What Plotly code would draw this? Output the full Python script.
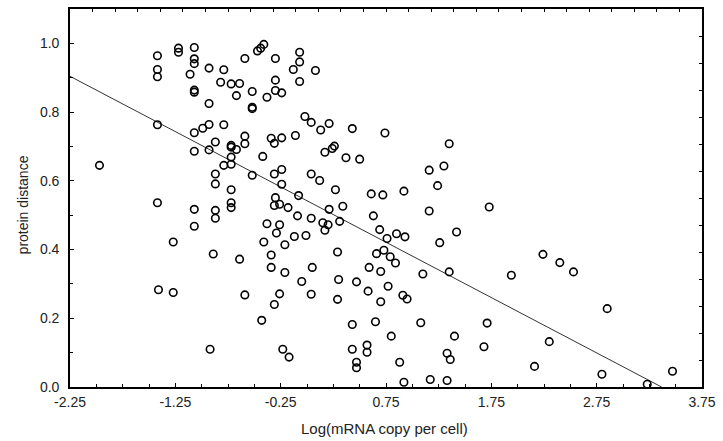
import plotly.graph_objects as go

# Data
log_mrna = [
    -1.97, -1.42, -1.42, -1.42, -1.42, -1.42, -1.41, -1.27, -1.27, -1.22,
    -1.22, -1.07, -1.07, -1.07, -1.11, -1.07, -1.07, -1.07, -1.07, -1.07,
    -1.07, -0.99, -0.93, -0.93, -0.93, -0.93, -0.92, -0.89, -0.87, -0.87,
    -0.87, -0.87, -0.87, -0.79, -0.82, -0.79, -0.79, -0.72, -0.72, -0.72,
    -0.72, -0.72, -0.72, -0.72, -0.72, -0.67, -0.67, -0.64, -0.64, -0.59,
    -0.59, -0.59, -0.59, -0.47, -0.44, -0.41, -0.30, -0.07, -0.07, -0.13,
    0.08, -0.07, -0.30, -0.52, -0.30, -0.24, -0.38, -0.52, -0.52, -0.02,
    0.04, 0.13, 0.21, 0.43, 0.74, -0.11, -0.34, -0.31, -0.24, -0.42,
    0.17, 0.24, 0.26, 0.37, 0.50, -0.52, -0.31, -0.24, 0.04, 0.12,
    -0.24, 0.27, -0.30, -0.08, 0.61, 0.72, 0.92, 1.35, 1.30, 1.16,
    1.24, 1.16, 1.73, 1.42, 1.26, 0.93, 0.85, -0.31, -0.26, -0.18,
    0.21, 0.34, -0.09, 0.04, -0.38, -0.26, -0.29, 0.15, 0.20, 0.17,
    0.31, 0.63, -0.12, -0.01, -0.41, -0.21, 0.69, 0.76, -0.34, 0.29,
    0.66, 0.73, 0.79, 0.84, -0.34, -0.21, 0.05, 0.59, 0.70, -0.05,
    0.30, 0.47, 0.77, 0.58, -0.26, -0.31, 0.04, 0.29, 0.70, 0.91,
    0.95, -0.43, 0.43, 0.65, 0.80, -0.23, -0.17, 0.43, 0.57, 0.57,
    0.47, 0.47, 0.88, 0.92, 1.10, 1.35, 1.94, 2.24, 2.40, 2.53,
    1.08, 1.71, 1.40, 1.68, 2.30, 1.33, 1.36, 2.16, 1.17, 1.33,
    2.85, 2.80, 3.23, 3.47,
]

protein_distance = [
    0.645, 0.964, 0.924, 0.903, 0.763, 0.536, 0.283, 0.422, 0.275, 0.986,
    0.974, 0.988, 0.955, 0.941, 0.910, 0.864, 0.858, 0.740, 0.686, 0.517,
    0.468, 0.753, 0.928, 0.825, 0.764, 0.690, 0.110, 0.387, 0.713, 0.620,
    0.591, 0.514, 0.491, 0.923, 0.887, 0.763, 0.645, 0.882, 0.703, 0.698,
    0.669, 0.648, 0.574, 0.536, 0.522, 0.848, 0.691, 0.883, 0.372, 0.956,
    0.730, 0.708, 0.268, 0.978, 0.986, 0.997, 0.956, 0.974, 0.946, 0.924,
    0.921, 0.889, 0.893, 0.860, 0.863, 0.856, 0.843, 0.814, 0.810, 0.787,
    0.770, 0.748, 0.767, 0.752, 0.739, 0.732, 0.724, 0.709, 0.725, 0.671,
    0.683, 0.694, 0.701, 0.667, 0.663, 0.616, 0.620, 0.633, 0.620, 0.601,
    0.590, 0.574, 0.551, 0.557, 0.562, 0.559, 0.570, 0.708, 0.643, 0.631,
    0.586, 0.512, 0.524, 0.451, 0.420, 0.437, 0.446, 0.528, 0.532, 0.522,
    0.517, 0.526, 0.498, 0.491, 0.475, 0.472, 0.448, 0.478, 0.472, 0.456,
    0.482, 0.498, 0.438, 0.441, 0.422, 0.414, 0.458, 0.432, 0.384, 0.393,
    0.388, 0.398, 0.379, 0.361, 0.348, 0.333, 0.348, 0.348, 0.336, 0.307,
    0.313, 0.306, 0.293, 0.279, 0.271, 0.240, 0.270, 0.255, 0.248, 0.267,
    0.256, 0.194, 0.182, 0.190, 0.148, 0.110, 0.087, 0.110, 0.122, 0.101,
    0.072, 0.056, 0.072, 0.014, 0.329, 0.335, 0.325, 0.386, 0.362, 0.335,
    0.187, 0.186, 0.148, 0.117, 0.132, 0.098, 0.080, 0.060, 0.022, 0.019,
    0.228, 0.037, 0.008, 0.046,
]

# Regression line
fit_intercept = 0.542
fit_slope = -0.161

x_tick_vals = [-2.25, -1.25, -0.25, 0.75, 1.75, 2.75, 3.75]
x_tick_text = ["-2.25", "-1.25", "-0.25", "0.75", "1.75", "2.75", "3.75"]
y_tick_vals = [0.0, 0.2, 0.4, 0.6, 0.8, 1.0]
y_tick_text = ["0.0", "0.2", "0.4", "0.6", "0.8", "1.0"]

x_title = "Log(mRNA copy per cell)"
y_title = "protein distance"

x_min, x_max = -2.25, 3.75
y_min, y_max = 0.0, 1.1

FONT = "Liberation Sans, Arial, Helvetica, sans-serif"
TXT = "#222222"

line_x = [x_min, -fit_intercept / fit_slope]
line_y = [fit_intercept + fit_slope * v for v in line_x]

fig = go.Figure()
fig.add_trace(go.Scatter(
    x=line_x, y=line_y, mode="lines",
    line=dict(color="#333333", width=1),
    showlegend=False, hoverinfo="skip",
))
fig.add_trace(go.Scatter(
    x=log_mrna, y=protein_distance, mode="markers",
    marker=dict(symbol="circle-open", size=7.5, color="black",
                line=dict(width=1.6, color="black")),
    showlegend=False,
))
# dummy traces to activate the top/right tick-only axes
fig.add_trace(go.Scatter(x=[None], y=[None], xaxis="x2", yaxis="y",
                         showlegend=False, hoverinfo="skip"))
fig.add_trace(go.Scatter(x=[None], y=[None], xaxis="x", yaxis="y2",
                         showlegend=False, hoverinfo="skip"))

fig.update_layout(
    width=723, height=441,
    margin=dict(l=70, r=16, t=7, b=54),
    paper_bgcolor="white", plot_bgcolor="white",
    font=dict(family=FONT, size=14, color=TXT),
    xaxis=dict(
        range=[x_min, x_max], tickvals=x_tick_vals, ticktext=x_tick_text,
        ticks="inside", ticklen=4, tickwidth=1, tickcolor="black",
        minor=dict(ticks="inside", tick0=x_min, dtick=0.25, ticklen=3,
                   tickcolor="black", tickwidth=1),
        showline=True, linecolor="black", linewidth=1.6, mirror=True,
        showgrid=False, zeroline=False, ticklabelstandoff=1,
        tickfont=dict(family=FONT, size=14, color=TXT),
    ),
    yaxis=dict(
        range=[y_min, y_max], tickvals=y_tick_vals, ticktext=y_tick_text,
        ticks="inside", ticklen=4, tickwidth=1, tickcolor="black",
        minor=dict(ticks="inside", tick0=0, dtick=0.1, ticklen=3,
                   tickcolor="black", tickwidth=1),
        showline=True, linecolor="black", linewidth=1.6, mirror=True,
        showgrid=False, zeroline=False, ticklabelstandoff=6,
        tickfont=dict(family=FONT, size=14, color=TXT),
    ),
    xaxis2=dict(
        overlaying="x", side="top", anchor="y", range=[0, 28], dtick=1,
        ticks="inside", ticklen=3, tickcolor="black", showticklabels=False,
        showgrid=False, zeroline=False, showline=False,
    ),
    yaxis2=dict(
        overlaying="y", side="right", anchor="x", range=[0, 14], dtick=1,
        ticks="inside", ticklen=3, tickcolor="black", showticklabels=False,
        showgrid=False, zeroline=False, showline=False,
    ),
    annotations=[
        dict(text=x_title, xref="paper", yref="paper", x=0.497, y=-0.111,
             xanchor="center", yanchor="middle", showarrow=False,
             font=dict(family=FONT, size=15, color=TXT)),
        dict(text=y_title, xref="paper", yref="paper", x=-0.075, y=0.482,
             xanchor="center", yanchor="middle", showarrow=False,
             textangle=-90, font=dict(family=FONT, size=14, color=TXT)),
    ],
)

fig.write_html(
    "out.html",
    config={"displayModeBar": False},
    post_script="document.body.style.margin='0';document.body.style.overflow='hidden';",
)
